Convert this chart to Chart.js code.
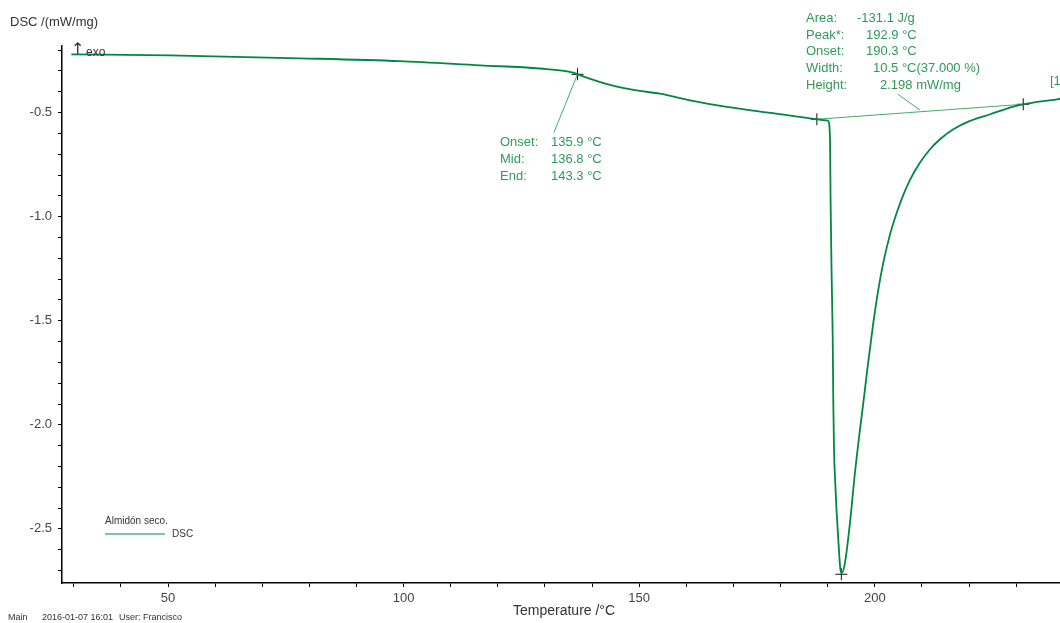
<!DOCTYPE html>
<html>
<head>
<meta charset="utf-8">
<script src="https://cdn.jsdelivr.net/npm/chart.js@4"></script>
<style>
  html, body { margin: 0; padding: 0; background: #fff; }
  #wrap { width: 1060px; height: 623px; position: relative; }
</style>
</head>
<body>
<div id="wrap"><canvas id="dsc" width="1060" height="623"></canvas></div>
<script>
"use strict";
// DSC curve, Almidón seco
const temps = [29.5, 50.4, 78.0, 99.2, 116.2, 128.9, 136.0, 136.9, 143.8, 150.1,
  154.4, 160.8, 168.6, 178.4, 187.7, 189.8, 190.1, 190.5, 190.6, 190.85,
  191.06, 191.19, 191.34, 191.6, 191.9, 192.25, 192.7, 193.0, 193.67, 194.73,
  195.79, 196.85, 197.91, 198.49, 199.68, 200.74, 201.80, 203.23, 204.65, 206.05,
  207.47, 209.60, 211.72, 213.84, 216.67, 220.21, 224.46, 229.41, 231.53, 238.62,
  239.4];
const dscValues = [-0.220, -0.225, -0.239, -0.253, -0.273, -0.288, -0.308, -0.316, -0.367, -0.396,
  -0.409, -0.441, -0.473, -0.503, -0.532, -0.537, -0.540, -0.628, -0.901, -1.301,
  -1.574, -1.893, -2.119, -2.278, -2.422, -2.552, -2.696, -2.712, -2.662, -2.470,
  -2.229, -2.023, -1.830, -1.718, -1.510, -1.350, -1.221, -1.085, -0.981, -0.895,
  -0.823, -0.740, -0.676, -0.628, -0.580, -0.540, -0.508, -0.471, -0.460, -0.436,
  -0.433];

// evaluation markers (+)
const markerT = [136.9, 187.7, 192.9, 231.5];
const markerV = [-0.316, -0.532, -2.718, -0.460];

// peak baseline and leader lines
const baselineT = [187.7, 231.5];
const baselineV = [-0.532, -0.460];
const leaderGlassT = [136.9, 131.9];
const leaderGlassV = [-0.316, -0.596];
const leaderPeakT = [204.9, 209.6];
const leaderPeakV = [-0.412, -0.488];

const xTicksMajor = [50, 100, 150, 200];
const yTicksMajor = [-0.5, -1.0, -1.5, -2.0, -2.5];

const verde = "rgb(0,135,65)";
const verdeClaro = "rgb(70,170,110)";
const fuente = "'Liberation Sans', Arial, sans-serif";

const pares = (xs, ys) => xs.map((x, i) => ({ x: x, y: ys[i] }));

const anotaciones = {
  id: "anotaciones",
  afterDraw(chart) {
    const c = chart.ctx;
    c.save();
    c.textBaseline = "middle";
    // titulos de ejes
    c.fillStyle = "#333";
    c.font = "13px " + fuente;
    c.fillText("DSC /(mW/mg)", 10, 22);
    c.font = "14px " + fuente;
    c.fillText("Temperature /°C", 513, 611);
    c.font = "16px 'DejaVu Sans', sans-serif";
    c.fillText("↑", 71, 50);
    c.font = "12px " + fuente;
    c.fillText("exo", 86, 53);
    // pie
    c.font = "9px " + fuente;
    c.fillText("Main", 8, 618);
    c.fillText("2016-01-07 16:01", 42, 618);
    c.fillText("User: Francisco", 119, 618);
    // leyenda
    c.font = "10px " + fuente;
    c.fillText("Almidón seco.", 105, 521);
    c.fillText("DSC", 172, 534);
    c.strokeStyle = verde;
    c.lineWidth = 1.2;
    c.beginPath();
    c.moveTo(105, 534);
    c.lineTo(165, 534);
    c.stroke();
    // texto de evaluación
    c.fillStyle = "#2f9a58";
    c.font = "13px " + fuente;
    c.fillText("Onset:", 500, 142);
    c.fillText("135.9 °C", 551, 142);
    c.fillText("Mid:", 500, 159);
    c.fillText("136.8 °C", 551, 159);
    c.fillText("End:", 500, 176);
    c.fillText("143.3 °C", 551, 176);

    c.fillText("Area:", 806, 18);
    c.fillText("-131.1 J/g", 857, 18);
    c.fillText("Peak*:", 806, 35);
    c.fillText("192.9 °C", 866, 35);
    c.fillText("Onset:", 806, 51);
    c.fillText("190.3 °C", 866, 51);
    c.fillText("Width:", 806, 68);
    c.fillText("10.5 °C(37.000 %)", 873, 68);
    c.fillText("Height:", 806, 85);
    c.fillText("2.198 mW/mg", 880, 85);
    c.fillText("[1", 1050, 81);
    c.restore();
  }
};

new Chart(document.getElementById("dsc"), {
  type: "line",
  data: {
    datasets: [
      {
        data: pares(temps, dscValues),
        borderColor: verde,
        borderWidth: 1.8,
        pointRadius: 0,
        cubicInterpolationMode: "monotone",
      },
      {
        data: pares(baselineT, baselineV),
        borderColor: verdeClaro,
        borderWidth: 1,
        pointRadius: 0,
      },
      {
        data: pares(leaderGlassT, leaderGlassV),
        borderColor: verdeClaro,
        borderWidth: 1,
        pointRadius: 0,
      },
      {
        data: pares(leaderPeakT, leaderPeakV),
        borderColor: verdeClaro,
        borderWidth: 1,
        pointRadius: 0,
      },
      {
        data: pares(markerT, markerV),
        showLine: false,
        pointStyle: "cross",
        pointRadius: 6,
        pointBorderColor: "#111",
        pointBorderWidth: 1,
      },
    ],
  },
  options: {
    responsive: false,
    animation: false,
    devicePixelRatio: 1,
    layout: { autoPadding: false, padding: { top: 46, right: 0, left: 0, bottom: 0 } },
    plugins: { legend: { display: false }, tooltip: { enabled: false } },
    scales: {
      x: {
        type: "linear",
        min: 27.5,
        max: 239.3,
        afterFit: (s) => { s.height = 40; s.paddingRight = 0; s.paddingLeft = 0; },
        border: { display: true, color: "#000", width: 1.5 },
        grid: { display: true, drawOnChartArea: false, drawTicks: true, tickLength: 4, color: "#000" },
        ticks: {
          stepSize: 10,
          includeBounds: false,
          autoSkip: false,
          maxRotation: 0,
          padding: 4,
          color: "#444",
          font: { family: fuente, size: 13 },
          callback: (v) => xTicksMajor.some((m) => Math.abs(m - v) < 1e-6) ? String(Math.round(v)) : "",
        },
      },
      y: {
        type: "linear",
        min: -2.76,
        max: -0.18,
        afterFit: (s) => { s.width = 62; },
        border: { display: true, color: "#000", width: 1.5 },
        grid: { display: true, drawOnChartArea: false, drawTicks: true, tickLength: 4, color: "#000" },
        ticks: {
          stepSize: 0.1,
          includeBounds: false,
          autoSkip: false,
          padding: 6,
          color: "#444",
          font: { family: fuente, size: 13 },
          callback: (v) => yTicksMajor.some((m) => Math.abs(m - v) < 1e-6) ? v.toFixed(1) : "",
        },
      },
    },
  },
  plugins: [anotaciones],
});
</script>
</body>
</html>
